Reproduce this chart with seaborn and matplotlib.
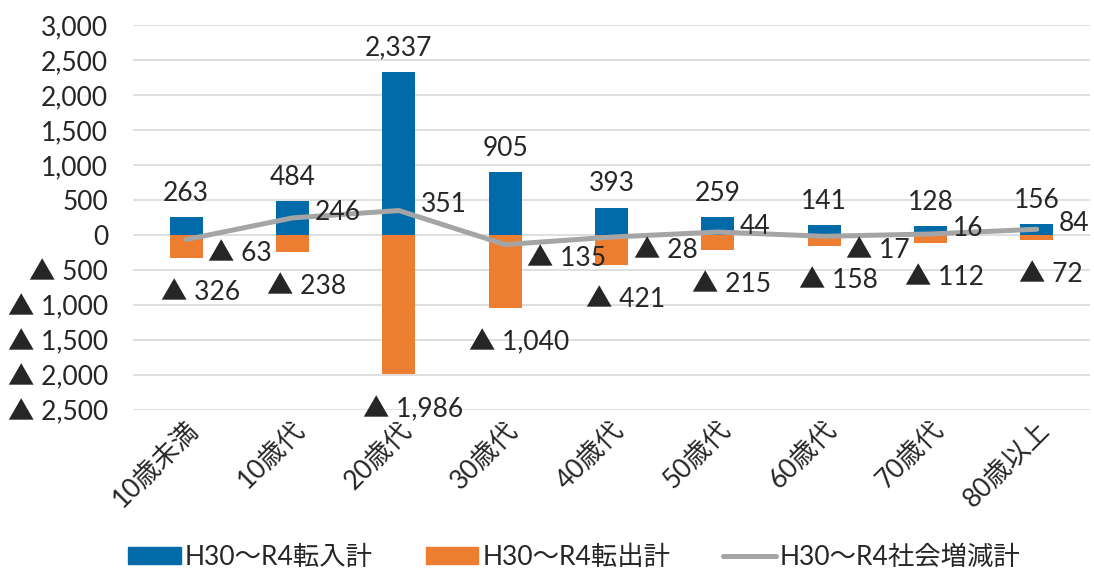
import numpy as np
import pandas as pd
import matplotlib
matplotlib.use("Agg")
import matplotlib.pyplot as plt
import seaborn as sns

# age groups and 5-year totals (H30-R4)
categories = ['10歳未満', '10歳代', '20歳代', '30歳代', '40歳代', '50歳代', '60歳代', '70歳代', '80歳以上']
inflow = [263, 484, 2337, 905, 393, 259, 141, 128, 156]
outflow = [-326, -238, -1986, -1040, -421, -215, -158, -112, -72]
net = [-63, 246, 351, -135, -28, 44, -17, 16, 84]

lbl_in = 'H30～R4転入計'
lbl_out = 'H30～R4転出計'
lbl_net = 'H30～R4社会増減計'

sns.set_theme(style='white')
plt.rcParams['font.family'] = ['Lato', 'Noto Sans CJK JP', 'DejaVu Sans']

c_blue = '#006BA8'
c_orange = '#ED7D31'
c_gray = '#A5A5A5'
fs = 19


def tri(v):
    # negative numbers are written with a black triangle
    if v < 0:
        return '▲ ' + f'{abs(v):,}'
    return f'{v:,}'


df = pd.DataFrame({
    'cat': categories * 2,
    'val': inflow + outflow,
    'kind': [lbl_in] * len(categories) + [lbl_out] * len(categories),
})

fig = plt.figure(figsize=(10.94, 5.76), dpi=100)
ax = fig.add_axes([0.1216, 0.288, 0.8747, 0.6684])

sns.barplot(data=df, x='cat', y='val', hue='kind', order=categories,
            palette=[c_blue, c_orange], dodge=False, width=0.31, saturation=1,
            edgecolor='none', ax=ax, legend=False)
sns.lineplot(x=categories, y=net, sort=False, color=c_gray, linewidth=3.6,
             solid_capstyle='round', ax=ax, label=lbl_net, legend=False)

ax.set_ylim(-2500, 3000)
ax.set_xlim(-0.5, len(categories) - 0.5)
ax.set_yticks(np.arange(-2500, 3001, 500))
ax.set_yticklabels([tri(int(t)) for t in np.arange(-2500, 3001, 500)])
ax.yaxis.grid(True, color='#D9D9D9', linewidth=1.2)
ax.set_axisbelow(True)
for s in ax.spines.values():
    s.set_visible(False)
ax.tick_params(axis='y', length=0, pad=18, labelsize=fs)
ax.tick_params(axis='x', length=0, pad=5, labelsize=fs)
plt.setp(ax.get_xticklabels(), rotation=45, ha='right', rotation_mode='anchor')
ax.set_xlabel('')
ax.set_ylabel('')

# data labels
for i, v in enumerate(inflow):
    ax.annotate(tri(v), (i, v), xytext=(0, 8), textcoords='offset points',
                ha='center', va='bottom', fontsize=fs)
for i, v in enumerate(outflow):
    ax.annotate(tri(v), (i, v), xytext=(10, -16), textcoords='offset points',
                ha='center', va='top', fontsize=fs)
for i, v in enumerate(net):
    dy = 4 if v >= 0 else -10
    ax.annotate(tri(v), (i, v), xytext=(16, dy), textcoords='offset points',
                ha='left', va='center', fontsize=fs)

handles = [
    plt.Rectangle((0, 0), 1, 1, color=c_blue),
    plt.Rectangle((0, 0), 1, 1, color=c_orange),
    plt.Line2D([0], [0], color=c_gray, linewidth=3.6, solid_capstyle='round'),
]
fig.legend(handles, [lbl_in, lbl_out, lbl_net], loc='lower center',
           bbox_to_anchor=(0.525, -0.03), ncol=3, frameon=False, fontsize=fs,
           handlelength=2.0, handleheight=0.6, columnspacing=2.0, handletextpad=0.15)

fig.savefig('out.png', dpi=100)
